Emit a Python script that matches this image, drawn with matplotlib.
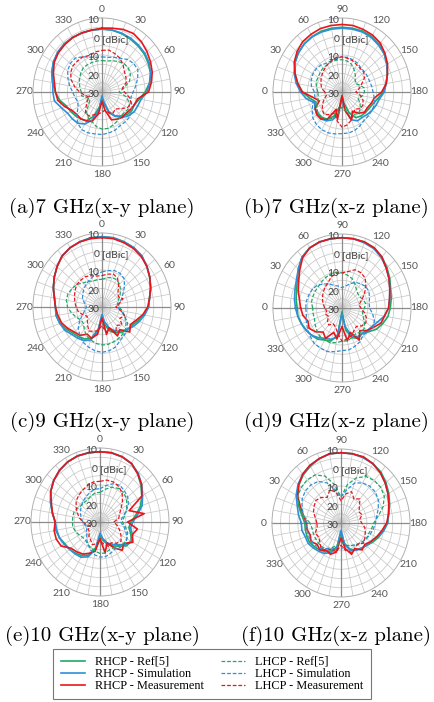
"""Polar radiation patterns (RHCP/LHCP) at 7, 9 and 10 GHz in two planes."""

import numpy as np
import matplotlib
matplotlib.use("Agg")
import matplotlib.pyplot as plt
from matplotlib.lines import Line2D

plt.rcParams["axes.unicode_minus"] = False

# ---- data: gain in dBic, sampled every 10 degrees (0..350) ----
angles_deg = list(range(0, 360, 10))

# (a) 7 GHz, x-y plane
a_rhcp_ref = [4, 4, 3.5, 3, 2.5, 2, 1, 0, -2, -5, -8, -10, -10, -11, -13, -15, -18, -24,
              -27, -22, -16, -12, -11, -10, -9, -8, -5, -3, -1, 1, 2.5, 3.5, 4, 4, 4, 4]
a_rhcp_sim = [4, 4, 3.8, 3.5, 3, 2.5, 1.5, 0, -2, -4, -7, -8, -8.5, -10, -12, -15, -19, -25,
              -28, -20, -14, -10, -8, -7.5, -7, -5, -2, -1.5, -1, 1, 2.5, 3.5, 4, 4, 4, 4]
a_rhcp_meas = [4.5, 5, 6, 6.5, 5.5, 4, 2.5, 1, -1, -3, -9, -10, -11, -12, -12, -13, -14, -20,
               -25, -18, -13, -12, -11, -11, -10, -7, -4, -3, -2, 0, 2, 3, 3.5, 4, 4, 4]
a_lhcp_ref = [-13, -13, -12, -11, -10, -10, -11, -13, -17, -20, -16, -13, -12, -13, -13, -12, -11, -10,
              -10, -11, -13, -14, -16, -20, -22, -21, -18, -18, -17, -16, -15, -14, -13, -13, -13, -13]
a_lhcp_sim = [-11, -11, -10, -9, -7, -6, -6, -8, -10, -12, -13, -12, -10, -9, -9, -9, -8, -7.5,
              -7, -7, -6.5, -6.5, -8, -11, -14, -15, -14, -13, -11, -9, -7, -6, -6, -8, -10, -11]
a_lhcp_meas = [-7.5, -7, -8, -9, -11, -13, -14, -15, -18, -17, -14, -12, -13, -16, -18, -17, -18, -20,
               -19, -18, -17, -15, -15, -18, -20, -22, -20, -17, -14, -11, -9, -8, -8, -8, -9, -8]

# (b) 7 GHz, x-z plane
b_rhcp_ref = [-7, -4, -1, 1.5, 3, 4, 4.5, 5, 5, 5, 5, 5, 4.5, 3.5, 2, 0, -2, -4,
              -6, -9, -11, -12, -12.5, -13, -14, -18, -24, -28, -22, -16, -13, -12, -12, -12, -14, -11]
b_rhcp_sim = [-6, -3, -0.5, 1.5, 3, 4, 4.5, 4.5, 4.5, 4.5, 4.5, 4.5, 4, 3, 2, 0, -2, -4,
              -5.5, -8, -9, -10, -11, -12, -12, -14, -20, -27, -18, -14, -12, -11, -11, -12, -13, -9]
b_rhcp_meas = [-7, -4, -1, 2, 4, 5.5, 6, 6.5, 6.5, 6.5, 6.5, 6, 5.5, 4.5, 2.5, 0.5, -2, -4,
               -7, -11, -12, -13, -13, -15, -18, -14, -20, -28, -15, -20, -13, -11, -11, -12, -16, -13]
b_lhcp_ref = [-16, -15, -14, -14, -13.5, -13, -13, -12.5, -12.5, -12.5, -13, -14, -16, -18, -20, -21, -19, -17,
              -17, -18, -20, -18, -16, -15, -16, -18, -20, -22, -18, -15, -13, -12, -12, -13, -15, -16]
b_lhcp_sim = [-14, -12, -11, -10.5, -10.5, -11, -12, -12, -11.5, -11, -11, -11.5, -12, -13, -13, -13, -13, -12.5,
              -12, -11, -10, -10, -10, -10, -9, -8, -7.5, -7.5, -7, -6.5, -6.5, -7, -8, -10, -12, -14]
b_lhcp_meas = [-20, -18, -17, -16, -15, -14, -13, -12, -11, -11, -11.5, -12, -13, -13.5, -13.5, -15, -18, -20,
               -22, -19, -17, -16, -16, -18, -17, -14, -12, -11, -14, -18, -16, -14, -15, -17, -19, -21]

# (c) 9 GHz, x-y plane
c_rhcp_ref = [8, 8, 7.5, 7, 6, 4, 2, 0, -2, -3, -5, -8, -10, -11, -12, -14, -16, -20,
              -25, -18, -12, -10, -9, -8, -6, -4, -3, -3, -2, 0, 2, 4, 6, 7, 7.5, 8]
c_rhcp_sim = [8, 8, 7.5, 7, 6, 4, 2, 0, -2, -3, -5, -7, -9, -11, -13, -15, -18, -22,
              -26, -17, -11, -9, -8, -7, -5, -4, -3, -3, -2, 0, 2, 4, 6, 7, 7.5, 8]
c_rhcp_meas = [7.5, 7.5, 7, 6.5, 5.5, 4, 2, 0, -2, -3.5, -6, -9, -11, -9, -14, -12, -18, -15,
               -24, -15, -12, -13, -10, -9, -7, -5, -4, -3, -2, 0, 2, 4, 6, 7, 7.5, 7.5]
c_lhcp_ref = [-15, -14, -13, -13, -14, -16, -18, -20, -21, -20, -18, -16, -14, -12, -11, -10.5, -10, -9.5,
              -9.5, -10, -11, -12, -14, -16, -16, -14, -12, -10, -9, -9, -10, -11, -13, -14, -15, -15]
c_lhcp_sim = [-11, -10, -9, -9, -10, -13, -16, -18, -20, -21, -19, -16, -13, -11, -10, -9, -7, -6,
              -5.5, -6, -7, -8, -10, -12, -15, -18, -20, -21, -20, -18, -17, -16, -15, -14, -13, -12]
c_lhcp_meas = [-13, -12, -11, -12, -15, -18, -19, -17, -20, -22, -19, -16, -18, -15, -17, -14, -18, -16,
               -20, -17, -16, -15, -17, -19, -20, -18, -16, -15, -14, -13, -12, -11, -11, -11, -12, -13]

# (d) 9 GHz, x-z plane
d_rhcp_ref = [-4, -3, -2, 0, 3, 6, 7.5, 8, 8, 8, 8, 8, 7.5, 6, 4, 2, 0, -1,
              -2, -3, -5, -7, -10, -12, -11, -13, -18, -28, -15, -11, -10, -8, -7, -6, -5, -4]
d_rhcp_sim = [-3, -2, -1, 0.5, 3, 6, 7.5, 8, 8, 8, 8, 7.5, 7, 5.5, 3.5, 1.5, -0.5, -2,
              -3, -5, -8, -10, -11, -12, -12, -14, -20, -27, -14, -12, -11, -9, -7, -6, -5, -4]
d_rhcp_meas = [-6, -5, -3, -1, 2, 5.5, 7.5, 8, 8, 8, 8, 8, 7.5, 6, 3.5, 1.5, -0.5, -2,
               -3, -5, -6, -9, -11, -14, -10, -16, -12, -20, -13, -16, -11, -13, -10, -8, -9, -7]
d_lhcp_ref = [-13, -12, -12, -12, -12, -11.5, -11, -10.5, -10.5, -11, -12, -13, -15, -17, -18, -18, -17, -16,
              -17, -18, -17, -15, -13, -13, -14, -13, -12, -12, -11, -10, -10, -10, -11, -12, -13, -13]
d_lhcp_sim = [-9, -9, -9.5, -10, -11, -13, -15, -17, -18, -19, -18, -16, -14, -13, -12, -12, -13, -14,
              -14, -12, -10, -9, -10, -11, -9, -8, -7, -7, -6, -5, -5, -5, -6, -7, -8, -9]
d_lhcp_meas = [-20, -19, -18, -17, -16, -15, -14, -12, -11, -11, -10, -8, -8, -9, -12, -15, -18, -20,
               -19, -17, -15, -14, -15, -17, -16, -14, -13, -12, -16, -19, -20, -18, -19, -21, -20, -21]

# (e) 10 GHz, x-y plane
e_rhcp_ref = [8, 8, 7.5, 6.5, 4, 1, -2, -5, -9, -12, -13, -11, -9, -10, -13, -15, -17, -20,
              -22, -16, -11, -9, -8, -7, -6.5, -5, -4, -4, -2, 0.5, 3, 5, 6.5, 7.5, 8, 8]
e_rhcp_sim = [8, 8, 7.5, 6.5, 4.5, 1.5, -1.5, -4, -8, -11, -12, -10, -9, -11, -14, -16, -18, -21,
              -24, -15, -10, -8, -7.5, -7, -6, -5, -4.5, -4, -2, 0.5, 3, 5, 6.5, 7.5, 8, 8]
e_rhcp_meas = [8, 8, 7.5, 6.5, 4, 1.5, -2, -12, -4, -14, -8, -10, -8, -12, -10, -14, -18, -13,
               -21, -14, -12, -10, -9, -8, -4, -3, -3, -4, -2, 0, 3, 5, 6.5, 7.5, 8, 8]
e_lhcp_ref = [-14, -12, -10, -9, -9, -10, -12, -14, -16, -17, -15, -13, -12, -12, -13, -14, -14, -13,
              -13, -14, -15, -16, -17, -17, -16, -15, -14, -14, -14, -14, -15, -16, -16, -16, -15, -14]
e_lhcp_sim = [-12, -10, -8, -7, -8, -9, -11, -14, -17, -18, -16, -14, -12, -11, -12, -13, -12, -11,
              -11, -12, -14, -16, -18, -20, -21, -22, -21, -20, -19, -18, -17, -16, -15, -14, -13, -12]
e_lhcp_meas = [-8, -7, -7, -8, -10, -13, -16, -18, -19, -22, -20, -18, -16, -14, -15, -17, -16, -18,
               -20, -18, -17, -19, -20, -22, -22, -24, -22, -20, -18, -16, -14, -12, -11, -10, -9, -8]

# (f) 10 GHz, x-z plane
f_rhcp_ref = [-9, -7, -4, -1, 2, 4, 5.5, 7, 8, 8, 8, 8, 7, 6, 4, 2, 0, -2,
              -3, -5, -7, -9, -11, -12, -13, -15, -18, -25, -17, -14, -12, -11, -10, -9, -9, -9]
f_rhcp_sim = [-7, -5, -3, 0, 2.5, 4.5, 6, 7, 8, 8, 8, 7.5, 7, 5.5, 3.5, 1.5, -0.5, -2,
              -3, -5, -8, -10, -11, -12, -13, -14, -19, -26, -16, -13, -11, -10, -9, -8, -8, -7]
f_rhcp_meas = [-10, -8, -5, -1, 2, 4.5, 6, 7, 8, 8, 8, 8, 7, 5.5, 3.5, 1.5, -0.5, -2,
               -3.5, -6, -8, -10, -12, -11, -14, -12, -16, -22, -14, -12, -13, -11, -12, -10, -11, -10]
f_lhcp_ref = [-12, -8, -4, -1, 0, 0.5, 0, -3, -9, -16, -9, -4, -1, 0, 0, -1, -4, -8,
              -11, -12, -13, -13, -14, -15, -16, -17, -18, -20, -18, -16, -14, -13, -13, -13, -13, -13]
f_lhcp_sim = [-10, -8, -6, -4, -3, -3, -4, -7, -12, -16, -12, -7, -5, -4, -4, -5, -7, -9,
              -10, -11, -12, -13, -14, -15, -16, -17, -17, -16, -17, -15, -14, -12, -11, -10, -10, -10]
f_lhcp_meas = [-16, -15, -13, -12, -11, -12, -14, -11, -13, -18, -14, -12, -15, -13, -16, -18, -17, -19,
               -18, -16, -15, -14, -13, -15, -14, -13, -15, -18, -14, -15, -13, -12, -14, -15, -14, -16]

captions = ["(a)7 GHz(x-y plane)", "(b)7 GHz(x-z plane)",
            "(c)9 GHz(x-y plane)", "(d)9 GHz(x-z plane)",
            "(e)10 GHz(x-y plane)", "(f)10 GHz(x-z plane)"]
series_labels = ["RHCP - Ref[5]", "RHCP - Simulation", "RHCP - Measurement",
                 "LHCP - Ref[5]", "LHCP - Simulation", "LHCP - Measurement"]
radial_labels = ["10", "0", "10", "20", "30"]
radial_values = [10, 0, -10, -20, -30]

GREEN = "#1fa866"
BLUE = "#2f8fd8"
RED = "#e8161c"
W, H = 435, 702


def draw_panel(fig, cx, cy, plane, curves):
    rx, ry = 69, 74
    ax = fig.add_axes([(cx - rx) / W, 1 - (cy + ry) / H, 2 * rx / W, 2 * ry / H],
                      projection="polar")
    ax.set_aspect("auto")
    ax.set_theta_direction(-1)
    if plane == "xy":
        ax.set_theta_zero_location("N")
    else:
        ax.set_theta_zero_location("W")
    ax.set_rlim(-30, 10)

    th = np.deg2rad(angles_deg + [360])
    styles = [(GREEN, "-"), (BLUE, "-"), (RED, "-"),
              (GREEN, (0, (3, 1.5))), (BLUE, (0, (3, 1.5))), (RED, (0, (3, 1.5)))]
    for vals, (col, ls) in zip(curves, styles):
        lw = 1.2 if ls == "-" else 0.9
        ax.plot(th, list(vals) + [vals[0]], color=col, linestyle=ls, linewidth=lw,
                zorder=3)

    ax.set_xticks(np.deg2rad(angles_deg))
    ax.set_xticklabels([str(a) if a % 30 == 0 else "" for a in angles_deg],
                       fontsize=7.5, color="#555555", family="Lato")
    ax.tick_params(axis="x", pad=-1, length=0)
    ax.set_yticks([-25, -20, -15, -10, -5, 0, 5])
    ax.set_yticklabels([])
    ax.tick_params(axis="y", length=0)
    ax.grid(True, color="#c8c8c8", linewidth=0.55)
    ax.spines["polar"].set_color("#b0b0b0")
    ax.spines["polar"].set_linewidth(0.7)
    for a in (0, 90, 180, 270):
        ax.plot([np.deg2rad(a), np.deg2rad(a)], [-30, 10], color="#8c8c8c",
                linewidth=0.9, zorder=2)

    # radial scale labels along the upward axis
    up = 0.0 if plane == "xy" else np.pi / 2
    for lab, v in zip(radial_labels, radial_values):
        ax.annotate(lab, xy=(up, v), xytext=(-2, -2), textcoords="offset points",
                    ha="right", va="center", fontsize=7.5, color="#444444",
                    family="Lato", zorder=5)
    ax.annotate("[dBic]", xy=(up, 0), xytext=(0, -2), textcoords="offset points",
                ha="left", va="center", fontsize=7.5, color="#444444",
                family="Lato", zorder=5)
    return ax


def main():
    fig = plt.figure(figsize=(W / 100, H / 100), dpi=100)

    panels = [
        (102, 92, "xy", [a_rhcp_ref, a_rhcp_sim, a_rhcp_meas, a_lhcp_ref, a_lhcp_sim, a_lhcp_meas]),
        (342, 92, "xz", [b_rhcp_ref, b_rhcp_sim, b_rhcp_meas, b_lhcp_ref, b_lhcp_sim, b_lhcp_meas]),
        (102, 307, "xy", [c_rhcp_ref, c_rhcp_sim, c_rhcp_meas, c_lhcp_ref, c_lhcp_sim, c_lhcp_meas]),
        (342, 308, "xz", [d_rhcp_ref, d_rhcp_sim, d_rhcp_meas, d_lhcp_ref, d_lhcp_sim, d_lhcp_meas]),
        (100, 522, "xy", [e_rhcp_ref, e_rhcp_sim, e_rhcp_meas, e_lhcp_ref, e_lhcp_sim, e_lhcp_meas]),
        (341, 523, "xz", [f_rhcp_ref, f_rhcp_sim, f_rhcp_meas, f_lhcp_ref, f_lhcp_sim, f_lhcp_meas]),
    ]
    for (cx, cy, plane, curves) in panels:
        draw_panel(fig, cx, cy, plane, curves)

    cap_pos = [(102, 208), (336, 208), (102, 422), (336, 422), (102, 636), (336, 636)]
    for text, (x, y) in zip(captions, cap_pos):
        fig.text(x / W, 1 - y / H, text, ha="center", va="center",
                 fontsize=15, family="cmr10")

    handles = [Line2D([], [], color=GREEN, lw=1.2),
               Line2D([], [], color=BLUE, lw=1.2),
               Line2D([], [], color=RED, lw=1.2),
               Line2D([], [], color=GREEN, lw=0.9, ls=(0, (3, 1.5))),
               Line2D([], [], color=BLUE, lw=0.9, ls=(0, (3, 1.5))),
               Line2D([], [], color=RED, lw=0.9, ls=(0, (3, 1.5)))]
    leg = fig.legend(handles, series_labels, ncol=2, loc="center",
                     bbox_to_anchor=(212 / W, 1 - 674 / H),
                     prop={"family": "Liberation Serif", "size": 8.8},
                     frameon=True, fancybox=False, edgecolor="#555555",
                     handlelength=2.0, handletextpad=0.8, columnspacing=1.4,
                     labelspacing=0.0, borderpad=0.6)
    leg.get_frame().set_linewidth(0.8)

    fig.savefig("out.png", dpi=100)
    plt.close(fig)


if __name__ == "__main__":
    main()
